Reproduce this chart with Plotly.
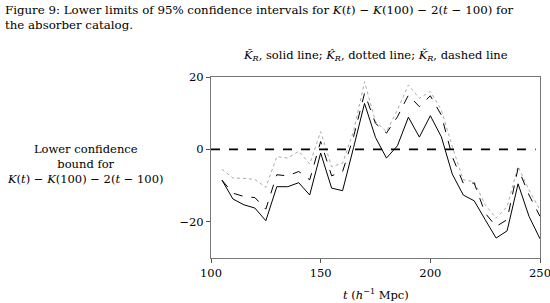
import plotly.graph_objects as go

t = [105, 110, 115, 120, 125, 130, 135, 140, 145, 150, 155, 160, 165, 170, 175,
     180, 185, 190, 195, 200, 205, 210, 215, 220, 225, 230, 235, 240, 245, 250]

k_tilde = [-8.5, -13.7, -15.3, -16.2, -19.7, -10.3, -10.3, -9.2, -12.6, -1.0,
           -10.7, -11.4, 0.5, 12.7, 3.3, -2.4, 1.0, 8.9, 3.4, 9.3,
           3.5, -6.8, -12.6, -14.2, -19.4, -24.5, -22.5, -9.5, -18.5, -24.7]

k_hat = [-5.5, -7.9, -8.0, -8.3, -10.5, -2.0, -2.4, -0.5, -4.0, 4.9,
         -4.8, -3.8, 5.0, 18.7, 7.7, 4.9, 10.9, 17.8, 14.1, 16.0,
         10.9, 0.8, -8.4, -8.9, -15.3, -19.0, -15.8, -4.7, -11.2, -16.7]

k_check = [-8.5, -12.1, -13.0, -13.3, -16.5, -7.0, -7.3, -6.1, -8.4, 2.2,
           -7.3, -6.1, 3.5, 15.5, 7.2, 4.5, 9.0, 15.0, 11.8, 14.8,
           9.5, -2.0, -9.3, -9.3, -17.6, -21.3, -19.4, -5.2, -12.6, -18.5]

x_ticks = [100, 150, 200, 250]
y_ticks = [-20, 0, 20]
y_tick_labels = ["\u221220", "0", "20"]

FONT = "DejaVu Serif"

fig = go.Figure()
fig.add_trace(go.Scatter(x=t, y=k_hat, mode="lines",
                         line=dict(color="#aaaaaa", width=1, dash="dot")))
fig.add_trace(go.Scatter(x=t, y=k_check, mode="lines",
                         line=dict(color="black", width=1, dash="dash")))
fig.add_trace(go.Scatter(x=t, y=k_tilde, mode="lines",
                         line=dict(color="black", width=1)))

fig.add_shape(type="line", xref="x", yref="y", x0=100, x1=248, y0=0, y1=0,
              line=dict(color="black", width=1.6, dash="dash"))

fig.update_layout(
    width=550, height=303,
    margin=dict(l=211, r=10, t=77, b=45),
    paper_bgcolor="white", plot_bgcolor="white",
    showlegend=False,
    font=dict(family=FONT, size=11, color="black"),
)
fig.update_xaxes(range=[100, 250], tickvals=x_ticks, ticks="outside", ticklen=4,
                 tickcolor="#555555", showline=True, linecolor="#777777", linewidth=1,
                 mirror=True, showgrid=False, zeroline=False, ticklabeloverflow="allow",
                 automargin=False, tickfont=dict(family=FONT, size=11.5))
fig.update_yaxes(range=[-30, 20], tickvals=y_ticks, ticktext=y_tick_labels,
                 ticks="outside", ticklen=4, tickcolor="#555555",
                 showline=True, linecolor="#777777", linewidth=1, mirror=True,
                 showgrid=False, zeroline=False, automargin=False,
                 tickfont=dict(family=FONT, size=11.5))

fig.add_annotation(
    text="Figure 9: Lower limits of 95% confidence intervals for <i>K</i>(<i>t</i>) \u2212 <i>K</i>(100) \u2212 2(<i>t</i> \u2212 100) for<br>the absorber catalog.",
    xref="paper", yref="paper", x=-208/329, y=1 + 76/181, xanchor="left", yanchor="top",
    align="left", showarrow=False, font=dict(family=FONT, size=11.8))

fig.add_annotation(
    text="<i>K\u0303</i><sub><i>R</i></sub>, solid line; <i>K\u0302</i><sub><i>R</i></sub>, dotted line; <i>K\u030C</i><sub><i>R</i></sub>, dashed line",
    xref="paper", yref="paper", x=0.5, y=1 + 21/181, xanchor="center", yanchor="middle",
    showarrow=False, font=dict(family=FONT, size=11.5))

fig.add_annotation(
    text="Lower confidence<br>bound for<br><i>K</i>(<i>t</i>) \u2212 <i>K</i>(100) \u2212 2(<i>t</i> \u2212 100)",
    xref="paper", yref="paper", x=-126/329, y=(258 - 164) / 181, xanchor="center", yanchor="middle",
    align="center", showarrow=False, font=dict(family=FONT, size=11.5))

fig.add_annotation(
    text="<i>t</i> (<i>h</i><sup>\u22121</sup> Mpc)",
    xref="paper", yref="paper", x=0.5, y=-36/181, xanchor="center", yanchor="middle",
    showarrow=False, font=dict(family=FONT, size=11.5))

fig.write_html("out.html", config={"displayModeBar": False},
               post_script="document.body.style.margin='0';")
